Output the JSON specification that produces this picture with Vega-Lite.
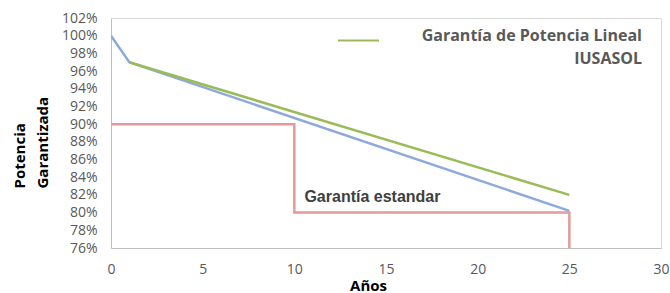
{
  "$schema": "https://vega.github.io/schema/vega-lite/v6.json",
  "width": 550,
  "height": 230,
  "autosize": {"type": "none"},
  "padding": {"left": 111, "top": 18, "right": 9, "bottom": 45},
  "background": "white",
  "config": {
    "font": "Open Sans",
    "view": {"stroke": "#D9D9D9", "strokeWidth": 1},
    "style": {"guide-label": {"lineHeight": 23}},
    "axis": {"grid": false, "ticks": false, "domainColor": "#BFBFBF", "labelColor": "#595959", "labelFontSize": 14, "labelOverlap": false, "labelFlush": false, "titleFontSize": 15, "titleFontWeight": "bold", "titleColor": "#000000"}
  },
  "datasets": {
    "lines": [
      {"serie": "Base", "anio": 0, "valor": 100},
      {"serie": "Base", "anio": 1, "valor": 97},
      {"serie": "Base", "anio": 25, "valor": 80.2},
      {"serie": "IUSASOL", "anio": 1, "valor": 97},
      {"serie": "IUSASOL", "anio": 25, "valor": 82},
      {"serie": "Estandar", "anio": 0, "valor": 90},
      {"serie": "Estandar", "anio": 10, "valor": 90},
      {"serie": "Estandar", "anio": 10, "valor": 80},
      {"serie": "Estandar", "anio": 25, "valor": 80},
      {"serie": "Estandar", "anio": 25, "valor": 76}
    ]
  },
  "layer": [
    {
      "data": {"name": "lines"},
      "mark": {"type": "line", "strokeWidth": 2.5, "clip": true},
      "encoding": {
        "x": {"field": "anio", "type": "quantitative", "scale": {"domain": [0, 30], "nice": false}, "axis": {"values": [0, 5, 10, 15, 20, 25, 30], "tickCount": 7, "labelPadding": 14, "title": "Años", "titlePadding": 2, "titleX": 257}},
        "y": {"field": "valor", "type": "quantitative", "scale": {"domain": [76, 102], "nice": false, "zero": false}, "axis": {"values": [76, 78, 80, 82, 84, 86, 88, 90, 92, 94, 96, 98, 100, 102], "tickCount": 14, "labelExpr": "datum.value + '%'", "labelOverlap": false, "labelSeparation": 0, "labelPadding": 14, "title": ["Potencia", "Garantizada"], "titlePadding": 11, "titleLineHeight": 23, "titleAlign": "left", "titleY": 170}},
        "color": {"field": "serie", "type": "nominal", "scale": {"domain": ["Estandar", "Base", "IUSASOL"], "range": ["#E6999A", "#8EAADB", "#9BBB59"]},
          "legend": {"values": ["IUSASOL"], "orient": "none", "legendX": 226, "legendY": 1, "title": null, "symbolType": "stroke", "symbolSize": 1681, "symbolStrokeWidth": 2, "labelExpr": "['Garantía de Potencia Lineal', 'IUSASOL']", "labelAlign": "right", "labelOffset": 262, "labelFontSize": 16, "labelFontWeight": "bold", "labelColor": "#595959", "labelLimit": 400, "labelBaseline": "alphabetic"}},
        "order": {"field": "serie"},
        "detail": {"field": "serie"}
      }
    },
    {
      "data": {"values": [{"label": "Garantía estandar"}]},
      "mark": {"type": "text", "align": "left", "baseline": "middle", "font": "Liberation Sans", "fontSize": 16, "fontWeight": "bold", "color": "#404040"},
      "encoding": {
        "x": {"datum": 10.55, "type": "quantitative"},
        "y": {"datum": 81.8, "type": "quantitative"},
        "text": {"field": "label"}
      }
    }
  ]
}
